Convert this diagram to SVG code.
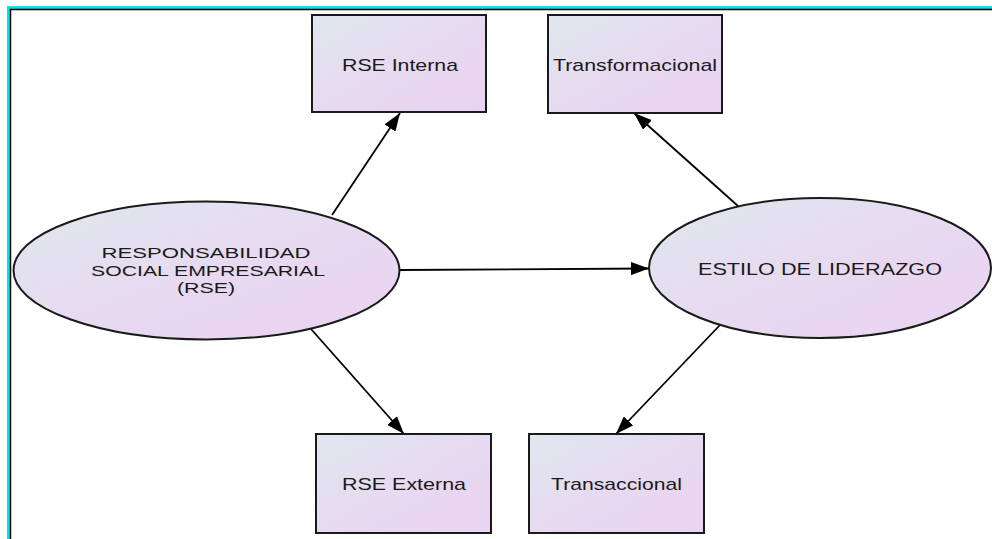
<svg xmlns="http://www.w3.org/2000/svg" width="992" height="539" viewBox="0 0 992 539">
  <defs>
    <linearGradient id="fillGrad" x1="0" y1="0" x2="1" y2="1">
      <stop offset="0" stop-color="#dfe7ee"/>
      <stop offset="0.6" stop-color="#e8d8f1"/>
      <stop offset="1" stop-color="#ead3f3"/>
    </linearGradient>
    <marker id="arrow" markerUnits="userSpaceOnUse" markerWidth="19" markerHeight="13" refX="18" refY="6.5" orient="auto">
      <path d="M0,0 L18,6.5 L0,13 Z" fill="#000"/>
    </marker>
    <style>
      .node { fill: url(#fillGrad); stroke: #1a1a1a; stroke-width: 2; }
      .label { font-family: "Liberation Sans", Arial, sans-serif; font-size: 17px; fill: #1a1a1a; text-anchor: middle; }
      .small { font-size: 15px; }
      .edge { stroke: #000; stroke-width: 1.8; fill: none; marker-end: url(#arrow); }
    </style>
  </defs>

  <rect width="992" height="539" fill="#fff"/>
  <!-- outer frame: cyan band with a thin black inner rule -->
  <path d="M8.5,539 V7.5 H992" fill="none" stroke="#00e5e5" stroke-width="3"/>
  <path d="M10.5,539 V9.5 H992" fill="none" stroke="#000" stroke-width="1.5"/>

  <g id="connectors">
    <line class="edge" x1="332" y1="215" x2="400" y2="113"/>
    <line class="edge" x1="311" y1="329" x2="404" y2="434"/>
    <line class="edge" x1="400" y1="270" x2="649" y2="268.5"/>
    <line class="edge" x1="738" y1="206" x2="634" y2="113"/>
    <line class="edge" x1="720" y1="325" x2="616" y2="434"/>
  </g>

  <g id="rse">
    <ellipse class="node" cx="206.5" cy="270.5" rx="193" ry="69"/>
    <text class="label small" x="206" y="258" textLength="209" lengthAdjust="spacingAndGlyphs">RESPONSABILIDAD</text>
    <text class="label small" x="208" y="275.5" textLength="234" lengthAdjust="spacingAndGlyphs">SOCIAL EMPRESARIAL</text>
    <text class="label small" x="206" y="293" textLength="58" lengthAdjust="spacingAndGlyphs">(RSE)</text>
  </g>

  <g id="estilo">
    <ellipse class="node" cx="820" cy="268" rx="171" ry="70"/>
    <text class="label" x="820" y="275" textLength="244" lengthAdjust="spacingAndGlyphs">ESTILO DE LIDERAZGO</text>
  </g>

  <g id="rse-interna">
    <rect class="node" x="312" y="15" width="174" height="97"/>
    <text class="label" x="400" y="71" textLength="116" lengthAdjust="spacingAndGlyphs">RSE Interna</text>
  </g>

  <g id="transformacional">
    <rect class="node" x="548" y="15" width="174" height="98"/>
    <text class="label" x="635" y="71" textLength="164" lengthAdjust="spacingAndGlyphs">Transformacional</text>
  </g>

  <g id="rse-externa">
    <rect class="node" x="316" y="434" width="175" height="99"/>
    <text class="label" x="404" y="490" textLength="124" lengthAdjust="spacingAndGlyphs">RSE Externa</text>
  </g>

  <g id="transaccional">
    <rect class="node" x="529" y="434" width="175" height="99"/>
    <text class="label" x="616.5" y="490" textLength="131" lengthAdjust="spacingAndGlyphs">Transaccional</text>
  </g>
</svg>
